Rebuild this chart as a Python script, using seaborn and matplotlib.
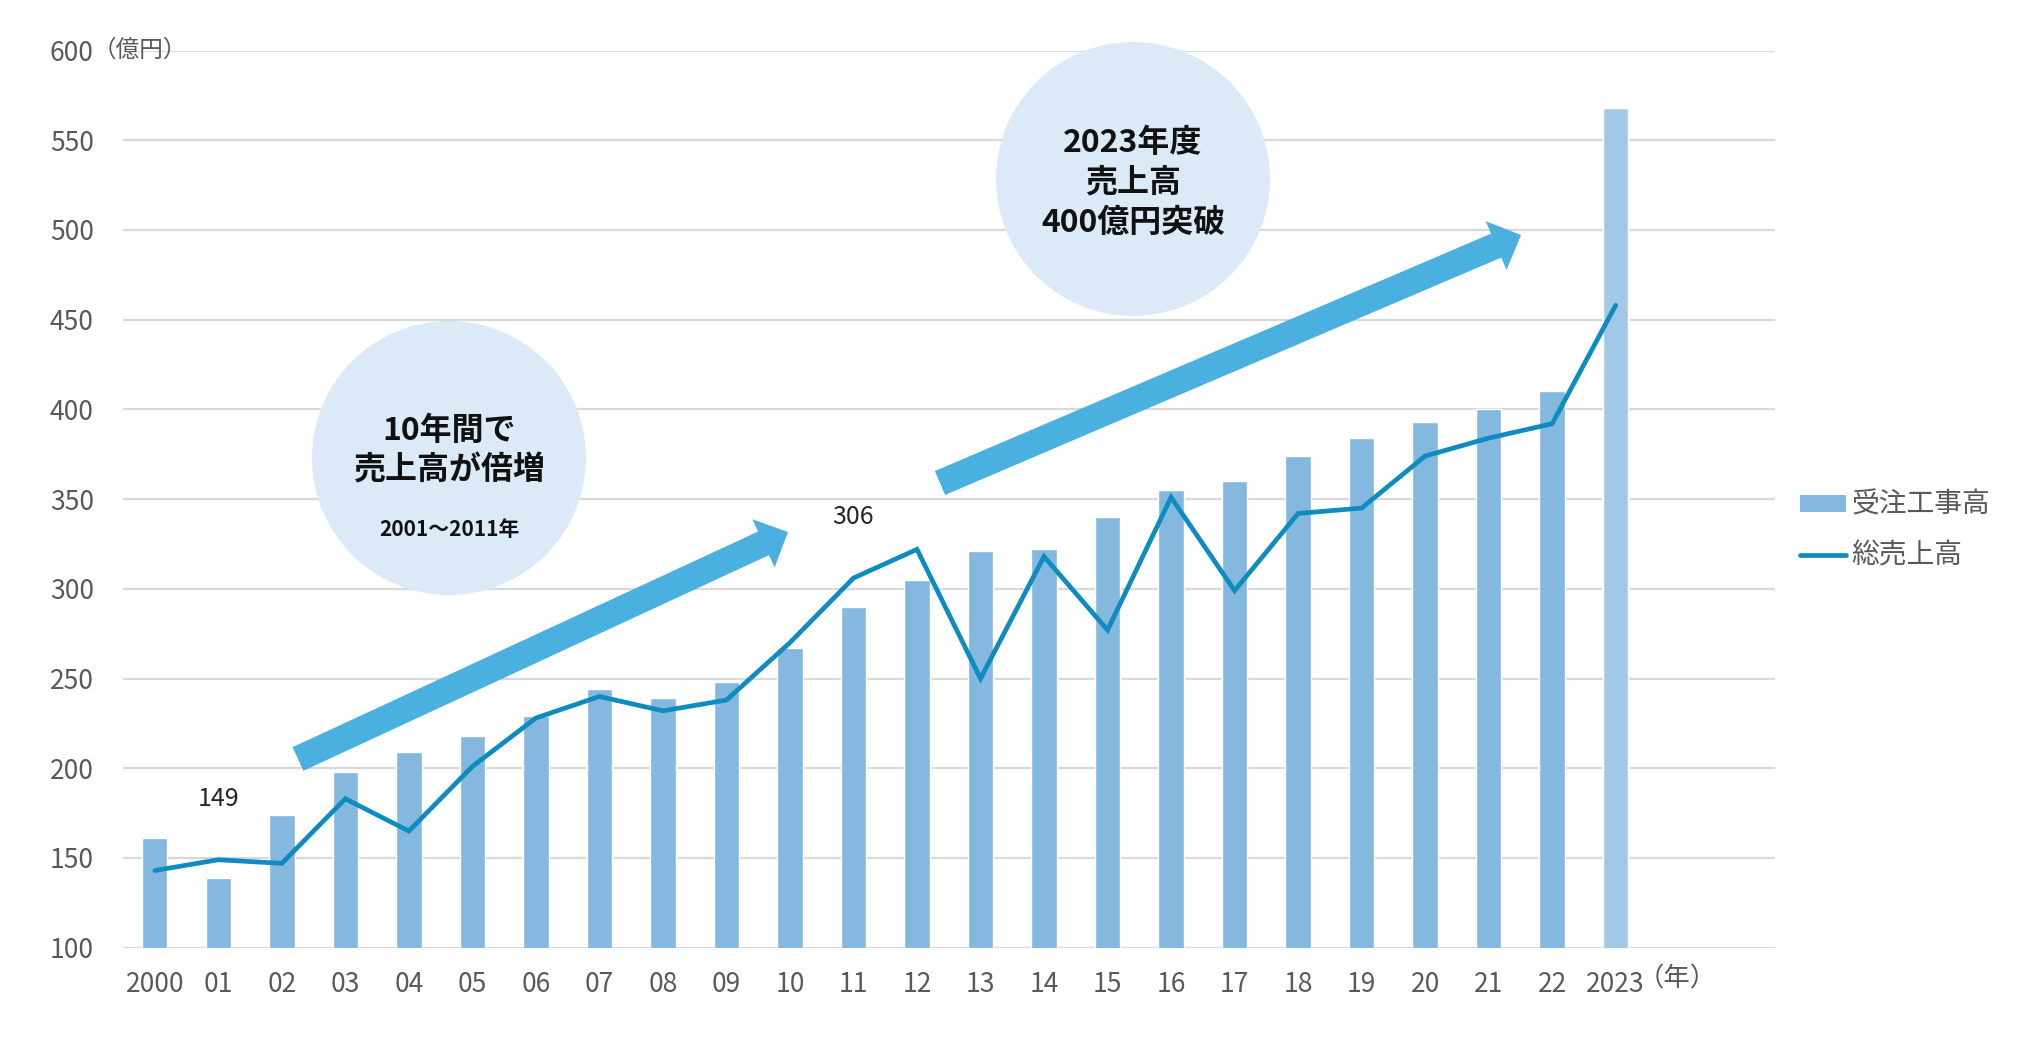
import numpy as np
import pandas as pd
import matplotlib
matplotlib.use("Agg")
import matplotlib.pyplot as plt
import seaborn as sns
from matplotlib.patches import Patch, FancyArrow, Circle
from matplotlib.lines import Line2D
from matplotlib.transforms import IdentityTransform

# data (億円)
years = ["2000", "01", "02", "03", "04", "05", "06", "07", "08", "09", "10", "11",
         "12", "13", "14", "15", "16", "17", "18", "19", "20", "21", "22", "2023"]
orders = [161, 139, 174, 198, 209, 218, 229, 244, 239, 248, 267, 290,
          305, 321, 322, 340, 355, 360, 374, 384, 393, 400, 410, 568]
sales = [143, 149, 147, 183, 165, 201, 228, 240, 232, 238, 270, 306,
         322, 250, 318, 277, 351, 299, 342, 345, 374, 384, 392, 458]
labelled_years = ["01", "11"]

bar_blue = "#85B8DF"
bar_light = "#A3C8E6"
line_blue = "#0E8BBF"
arrow_blue = "#4AB0E0"
circle_fill = "#DCE9F6"
grid_grey = "#D9D9D9"
text_grey = "#595959"

df = pd.DataFrame({"year": years, "orders": orders, "sales": sales})
df["pos"] = np.arange(len(df))

sns.set_theme(style="white")
plt.rcParams["font.family"] = ["Noto Sans CJK JP", "DejaVu Sans"]

W, H = 2021, 1053
fig = plt.figure(figsize=(W / 100, H / 100), dpi=100)
ax = fig.add_axes([123 / W, 1 - 947.7 / H, 1651.5 / W, (947.7 - 50.5) / H])

palette = {y: (bar_light if y == "2023" else bar_blue) for y in years}
sns.barplot(data=df, x="year", y="orders", hue="year", palette=palette,
            width=0.4, saturation=1, legend=False, ax=ax, zorder=2)
sns.lineplot(data=df, x="pos", y="sales", color=line_blue, lw=3.4,
             solid_capstyle="round", solid_joinstyle="miter", ax=ax, zorder=3)

ax.set_xlim(-0.5, 25.5)
ax.set_ylim(100, 600)
ax.set_yticks(range(100, 601, 50))
ax.set_xticks(range(len(years)), years)
ax.set_xlabel("")
ax.set_ylabel("")
for s in ax.spines.values():
    s.set_visible(False)
ax.grid(axis="y", color=grid_grey, lw=1.6, zorder=0)
ax.set_axisbelow(True)
ax.tick_params(axis="y", length=0, pad=21, labelsize=19, labelcolor=text_grey)
ax.tick_params(axis="x", length=0, pad=17, labelsize=19, labelcolor=text_grey)

# unit labels
ax.annotate("（億円）", xy=(0, 600), xycoords=("axes fraction", "data"),
            xytext=(-22, 0), textcoords="offset points", ha="left", va="center",
            fontsize=17, color=text_grey)
ax.annotate("（年）", xy=(23, 0), xycoords=("data", "axes fraction"),
            xytext=(16, -12.5), textcoords="offset points", ha="left", va="top",
            fontsize=19, color=text_grey)

# value labels
for y in labelled_years:
    row = df[df["year"] == y].iloc[0]
    ax.annotate(f"{row['sales']}", xy=(row["pos"], row["sales"]),
                xytext=(0, 44), textcoords="offset points", ha="center",
                va="center", fontsize=18, color="#262626")

# legend
handles = [Patch(facecolor=bar_blue, edgecolor="none"),
           Line2D([0], [0], color=line_blue, lw=3.4, solid_capstyle="round")]
fig.legend(handles, ["受注工事高", "総売上高"], loc="upper left",
           bbox_to_anchor=(1800 / W, 1 - 490 / H), frameon=False,
           fontsize=20, labelcolor=text_grey, borderpad=0, borderaxespad=0,
           handlelength=1.65, handleheight=0.55, handletextpad=0.2,
           labelspacing=0.75)

# decorations in pixel space
ident = IdentityTransform()
for cx, cy in [(449, 458), (1133, 179)]:
    fig.add_artist(Circle((cx, H - cy), 137, transform=ident,
                          facecolor=circle_fill, edgecolor="none", zorder=5))
for (x0, y0), (x1, y1) in [((298, 759), (788, 532)), ((940, 483), (1521, 235))]:
    fig.add_artist(FancyArrow(x0, H - y0, x1 - x0, y0 - y1, width=26,
                              head_width=53, head_length=27,
                              length_includes_head=True, transform=ident,
                              facecolor=arrow_blue, edgecolor="none", zorder=5))

txt = dict(ha="center", va="center", fontweight="bold", color="#111111", zorder=6)
fig.text(449 / W, 1 - 431 / H, "10年間で", fontsize=23, **txt)
fig.text(449 / W, 1 - 471 / H, "売上高が倍増", fontsize=23, **txt)
fig.text(449 / W, 1 - 529 / H, "2001～2011年", fontsize=15, **txt)
fig.text(1133 / W, 1 - 143 / H, "2023年度", fontsize=23, **txt)
fig.text(1133 / W, 1 - 183 / H, "売上高", fontsize=23, **txt)
fig.text(1133 / W, 1 - 223 / H, "400億円突破", fontsize=23, **txt)

fig.savefig("out.png", dpi=100)
